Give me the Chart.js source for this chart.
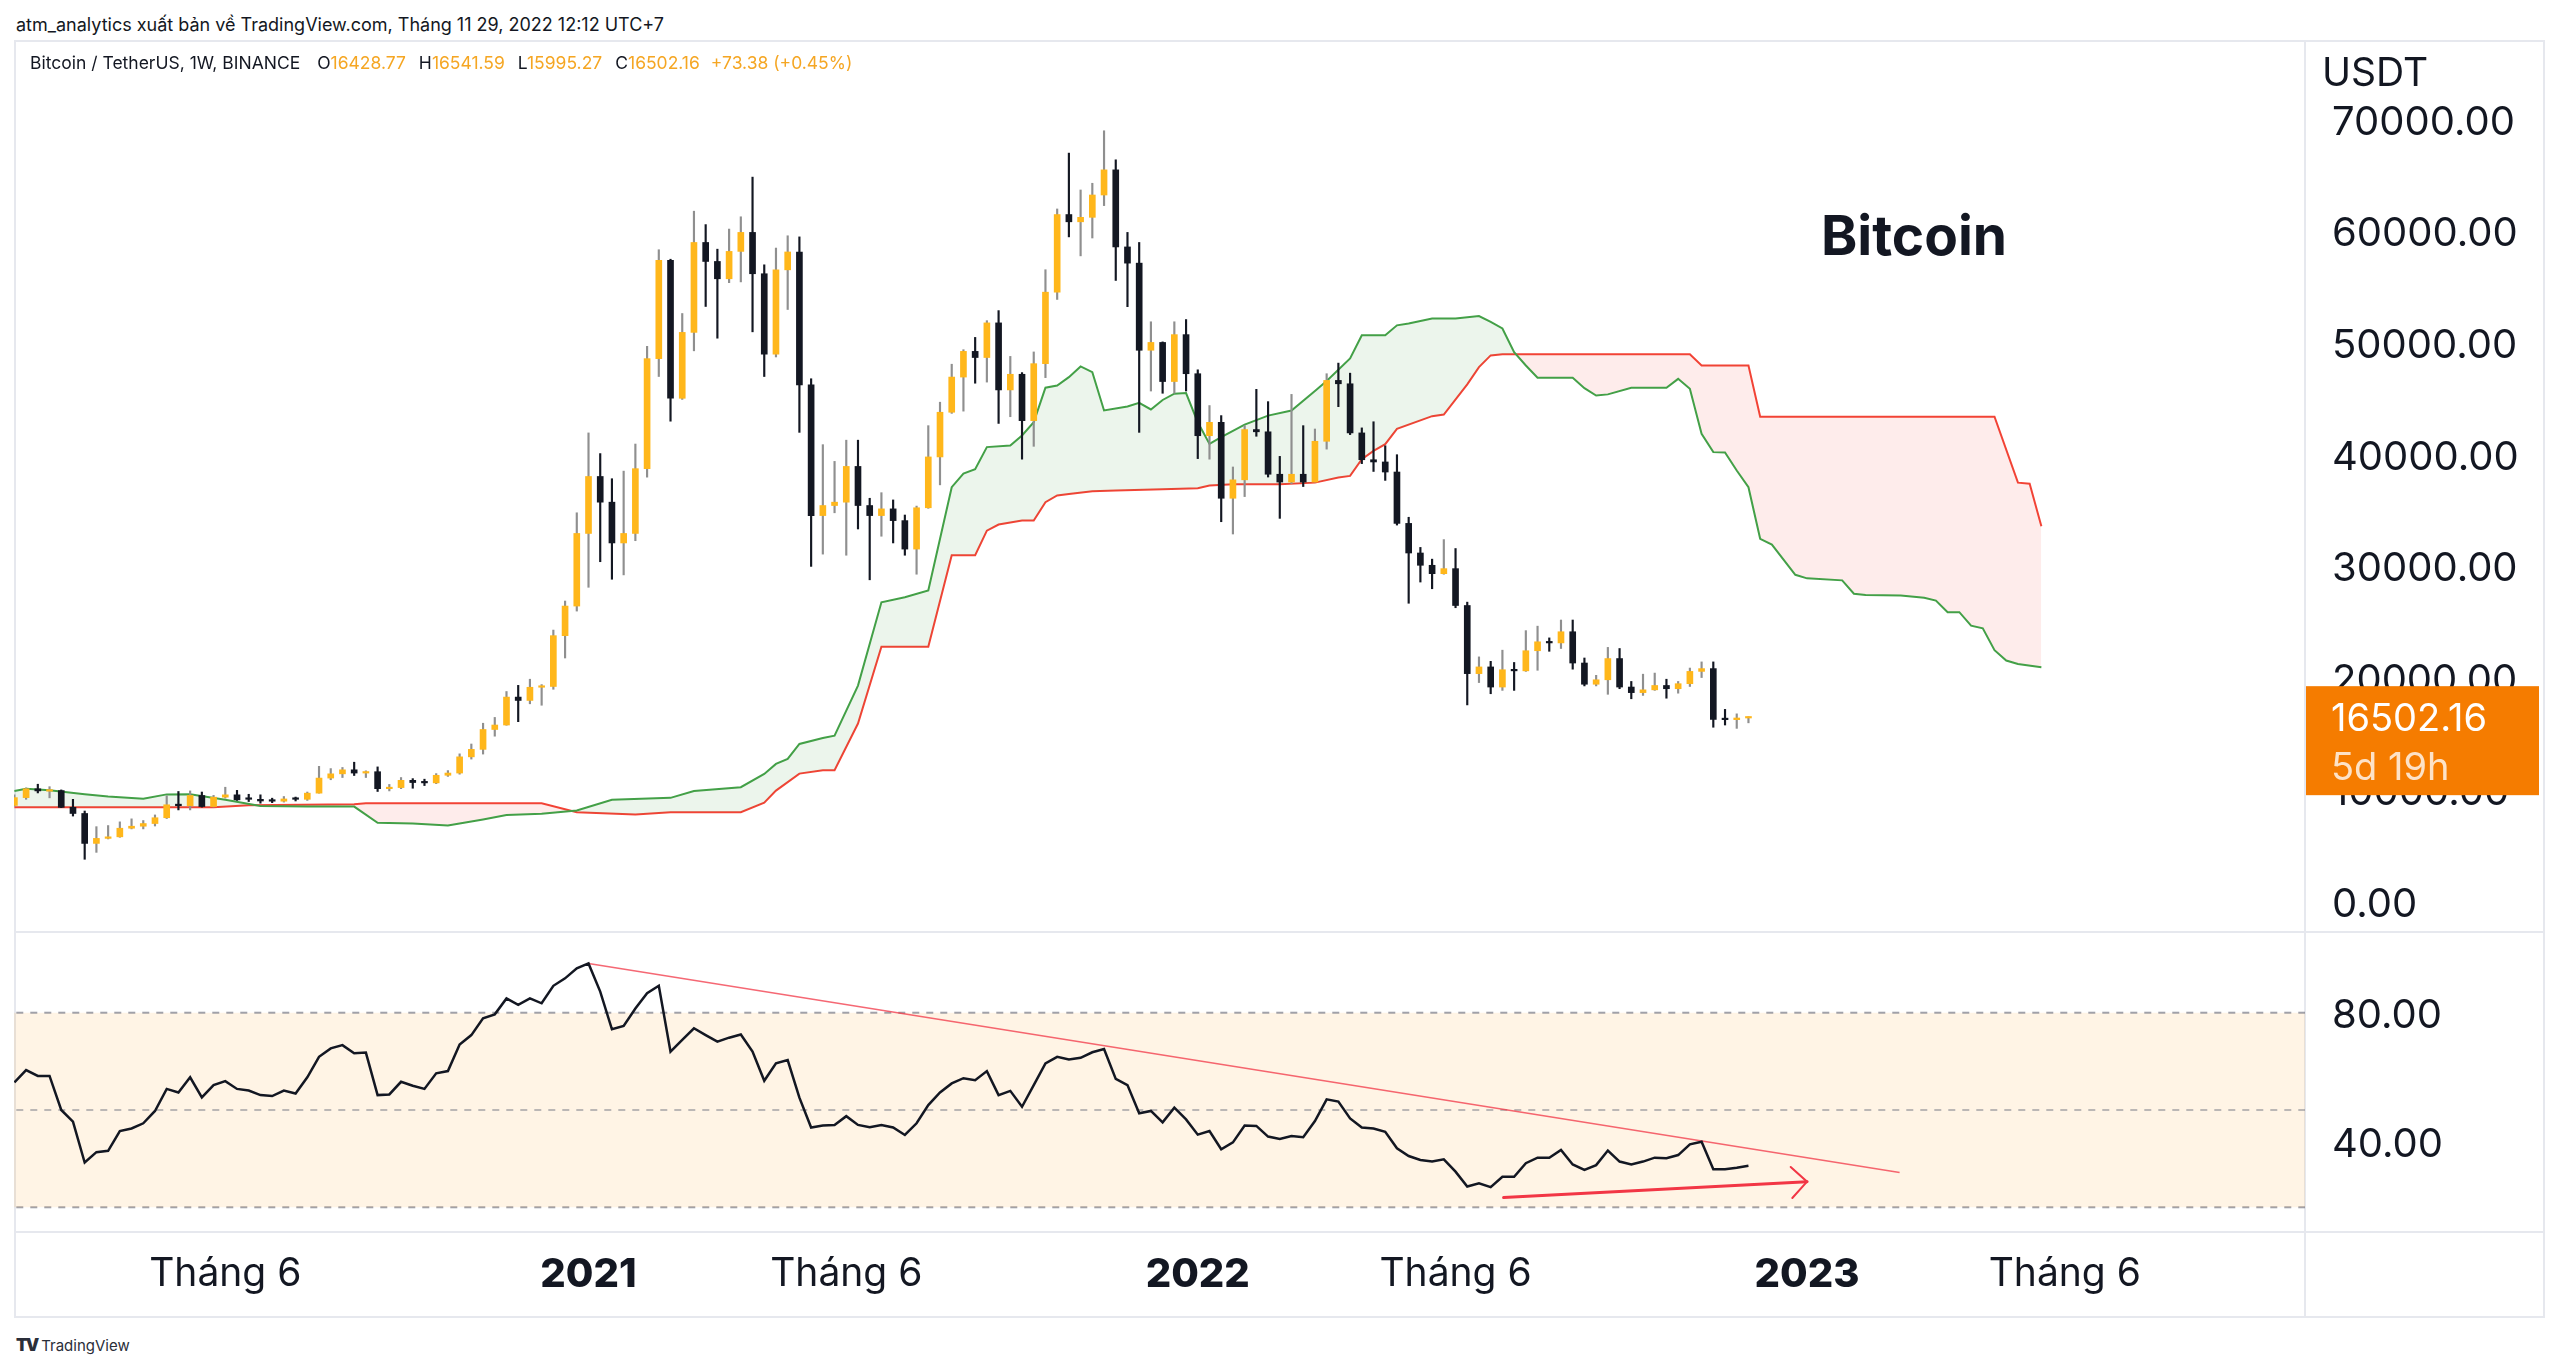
<!DOCTYPE html>
<html lang="vi">
<head>
<meta charset="utf-8">
<title>Bitcoin / TetherUS, 1W</title>
<script src="https://cdn.jsdelivr.net/npm/chart.js@4.4.1/dist/chart.umd.min.js"></script>
<style>
  html, body { margin: 0; padding: 0; background: #ffffff; }
  body { width: 2560px; height: 1370px; position: relative; overflow: hidden;
         font-family: Inter, "Noto Sans", sans-serif; color: #131722; }
  .abs { position: absolute; white-space: nowrap; }
  .hline { position: absolute; height: 2px; background: #e6e8ee; }
  .vline { position: absolute; width: 2px; background: #e6e8ee; }
  canvas { position: absolute; }
  #giaChart { left: 14px; top: 40px; width: 2531px; height: 892px; }
  #rsiChart { left: 14px; top: 932px; width: 2531px; height: 386px; }
  #frame { left: 14px; top: 40px; width: 2531px; height: 1278px; box-sizing: border-box; border: 2px solid #e6e8ee; }
  #tieuDe { left: 16px; top: 13px; font-size: 18px; line-height: 24px; }
  #chuGiai { left: 30px; top: 51px; font-size: 17.5px; line-height: 24px; }
  #chuGiai .v { color: #f5a623; margin-right: 11px; }
  #chuGiai .k { margin-left: 2px; }
  #donVi { left: 2322px; top: 49px; font-size: 39px; line-height: 46px; }
  #tenCoin { left: 1764px; top: 202px; width: 300px; text-align: center; font-size: 55px; line-height: 66px; font-weight: 700; }
  #chanTrang { left: 16px; top: 1334px; font-size: 15px; line-height: 22px; color: #2a2e39; }
  #chanTrang b { font-weight: 900; font-size: 17px; letter-spacing: -2px; margin-right: 4px; }
</style>
</head>
<body>
<div id="frame" class="abs"></div>
<div class="hline" style="left:14px; top:931px; width:2531px"></div>
<div class="hline" style="left:14px; top:1231px; width:2531px"></div>
<div class="vline" style="left:2304px; top:40px; height:1278px"></div>

<canvas id="giaChart" width="2531" height="892"></canvas>
<canvas id="rsiChart" width="2531" height="386"></canvas>

<div id="tieuDe" class="abs">atm_analytics xuất bản về TradingView.com, Tháng 11 29, 2022 12:12 UTC+7</div>
<div id="chuGiai" class="abs"></div>
<div id="donVi" class="abs">USDT</div>
<div id="tenCoin" class="abs">Bitcoin</div>
<div id="chanTrang" class="abs"><b>TV</b>TradingView</div>

<script>
// Tuần 0 = 03/02/2020; nến đầu tiên (27/01/2020) là tuần -1
const tuanDau = -1;

const opens = [
    8600, 9300, 10090, 9880, 9930, 8430, 7880, 5200, 5650, 5790,
    6560, 6740, 6980, 7500, 8700, 8580, 9490, 8500, 9340, 9550,
    9200, 9150, 9000, 8980, 9180, 9150, 9700, 11050, 11430, 11790,
    11500, 11620, 10100, 10200, 10850, 10650, 10620, 11300, 11500, 12950,
    13620, 15400, 15800, 18300, 18000, 19180, 19250, 23800, 26450, 32950,
    38050, 35750, 32100, 32950, 38750, 48600, 57400, 45050, 50950, 59000,
    57300, 55750, 58200, 59900, 56200, 49000, 56550, 58150, 46250, 34550,
    35450, 35750, 38950, 35450, 34550, 35150, 34100, 31550, 35250, 39800,
    43800, 46950, 49250, 48700, 51800, 45800, 47200, 43050, 48150, 54550,
    61500, 60850, 61250, 63250, 65500, 58600, 57150, 49350, 50050, 46550,
    50750, 47250, 41700, 42900, 36100, 37750, 42250, 42050, 38250, 37550,
    38250, 37550, 41200, 46650, 46350, 41950, 39550, 39350, 38450, 33850,
    31200, 30100, 29350, 29800, 26500, 20400, 21000, 19200, 20750, 20650,
    22450, 23250, 23150, 24150, 21350, 19450, 19850, 21750, 19200, 18700,
    18950, 19340, 19050, 19500, 20600, 20850, 16300, 16280, 16428.77
];
const highs = [
    9560, 10170, 10500, 10280, 9990, 9150, 8100, 6700, 6800, 7130,
    7400, 7250, 7750, 9460, 9850, 9900, 9800, 9500, 10230, 9950,
    9600, 9550, 9250, 9400, 9350, 9800, 12100, 11900, 12000, 12470,
    11700, 12050, 10480, 11100, 11000, 10950, 11450, 11720, 13220, 14100,
    15960, 16480, 18800, 19350, 19900, 19420, 24300, 26900, 34800, 41950,
    40100, 37850, 38530, 40955, 49700, 58350, 57500, 52640, 61800, 60600,
    58400, 60200, 61300, 64850, 57000, 58500, 59600, 59500, 46800, 40900,
    39400, 41300, 41300, 36100, 36600, 35950, 34600, 35400, 42600, 44700,
    48100, 49400, 50500, 52000, 52900, 48800, 47350, 49200, 56560, 62000,
    67000, 63700, 64300, 69000, 66400, 59900, 59000, 51900, 50100, 51900,
    52100, 47600, 44400, 43500, 38900, 42600, 45850, 44750, 39850, 45400,
    42600, 42300, 47250, 48200, 47300, 42400, 42950, 40800, 40000, 34400,
    31700, 30650, 32400, 31600, 26800, 21900, 21500, 22500, 21400, 24250,
    24650, 23600, 25200, 25200, 21800, 20250, 22750, 22650, 19700, 20350,
    20450, 19900, 19700, 20900, 21450, 21450, 17200, 16800, 16541.59
];
const lows = [
    8530, 9150, 9720, 9280, 8400, 7650, 3780, 4400, 5600, 5750,
    6500, 6500, 6760, 7430, 8200, 8200, 8450, 8450, 9250, 9050,
    8950, 8800, 8850, 8900, 9000, 9050, 9700, 10900, 11100, 11280,
    11100, 9850, 9900, 10100, 10140, 10380, 10550, 11200, 11400, 12750,
    13200, 14800, 15780, 16100, 17700, 17570, 19000, 21800, 26000, 28130,
    30420, 28850, 29240, 32300, 37990, 47000, 43000, 44950, 49300, 53270,
    50430, 55400, 55470, 51000, 47000, 48750, 53000, 42000, 30000, 31100,
    34800, 31000, 33350, 28800, 32700, 32100, 31000, 29300, 35200, 37300,
    43700, 43900, 46400, 46500, 42800, 43400, 39600, 40750, 46900, 53900,
    59500, 57800, 59400, 62300, 55600, 53250, 42000, 45700, 45500, 45500,
    45700, 39650, 39600, 34000, 32900, 36250, 41650, 38000, 34300, 37400,
    37150, 37550, 40500, 44300, 41800, 39200, 38500, 37700, 33700, 26700,
    28600, 28000, 29300, 26300, 17600, 19600, 18600, 18900, 18900, 20600,
    20700, 22400, 22650, 20800, 19300, 19300, 18550, 19050, 18150, 18450,
    18900, 18200, 18650, 19250, 20050, 15600, 15800, 15500, 15995.27
];
const closes = [
    9300, 10090, 9900, 9930, 8430, 7880, 5200, 5650, 5790, 6560,
    6740, 6980, 7500, 8660, 8580, 9490, 8500, 9340, 9550, 9100,
    9150, 9000, 8980, 9180, 9150, 9700, 11050, 11430, 11790, 11500,
    11620, 10100, 10200, 10850, 10650, 10620, 11300, 11500, 12950, 13620,
    15400, 15800, 18300, 18000, 19180, 19250, 23800, 26450, 32950, 38050,
    35750, 32100, 32950, 38750, 48600, 57400, 45050, 50950, 59000, 57300,
    55750, 58200, 59900, 56200, 49000, 56550, 58150, 46250, 34550, 35450,
    35750, 38950, 35450, 34550, 35150, 34100, 31550, 35250, 39800, 43800,
    46950, 49250, 48700, 51800, 45800, 47200, 43050, 48150, 54550, 61500,
    60850, 61250, 63250, 65500, 58600, 57150, 49350, 50050, 46550, 50750,
    47250, 41700, 42900, 36100, 37750, 42250, 42050, 38250, 37550, 38250,
    37550, 41200, 46650, 46350, 41950, 39550, 39350, 38450, 33850, 31200,
    30100, 29350, 29800, 26500, 20400, 21000, 19200, 20750, 20650, 22450,
    23250, 23150, 24150, 21350, 19450, 19850, 21750, 19200, 18700, 18950,
    19340, 19050, 19500, 20600, 20850, 16300, 16280, 16428.78, 16502.16
];
const rsiValues = [
    58.5, 62.3, 60.5, 60.5, 50.0, 46.4, 33.8, 37.0, 37.4, 43.5,
    44.3, 45.9, 49.7, 56.5, 55.4, 60.1, 53.9, 57.7, 58.9, 56.5,
    56.0, 54.6, 54.3, 56.0, 55.1, 60.1, 66.4, 69.0, 70.0, 67.5,
    67.7, 54.6, 54.8, 58.7, 57.5, 56.5, 61.3, 62.0, 70.2, 73.1,
    78.3, 79.5, 84.4, 82.4, 84.4, 82.9, 88.3, 90.6, 93.7, 95.2,
    86.5, 74.9, 75.9, 81.3, 86.0, 88.3, 68.0, 71.6, 75.2, 73.1,
    71.1, 72.3, 73.3, 68.0, 59.0, 64.4, 65.4, 53.8, 44.6, 45.2,
    45.4, 48.1, 45.4, 44.7, 45.4, 44.6, 42.3, 45.9, 51.5, 55.4,
    58.2, 59.8, 59.2, 62.0, 54.6, 55.9, 51.0, 57.7, 64.4, 66.4,
    65.6, 66.1, 67.8, 68.8, 59.6, 57.7, 49.0, 49.7, 46.2, 50.7,
    47.1, 42.4, 43.5, 37.9, 40.0, 45.2, 45.1, 41.8, 41.1, 42.0,
    41.6, 46.6, 53.3, 52.6, 47.4, 44.6, 44.3, 43.3, 38.2, 35.8,
    34.6, 34.1, 34.8, 31.0, 26.4, 27.4, 26.2, 29.4, 29.4, 33.6,
    35.3, 35.3, 37.7, 33.2, 31.5, 33.0, 37.5, 34.1, 33.2, 34.1,
    35.3, 35.1, 36.1, 39.4, 40.2, 31.7, 31.7, 32.2, 32.8
];

// Mây Ichimoku (đã dời 26 tuần), đọc theo các đỉnh gãy của đường
const spanAWeeks = [-1, 0, 2, 5, 7, 10, 12, 14, 17, 20, 24, 28, 30, 33, 36, 39, 41, 44, 47, 50,
    55, 57, 61, 63, 64, 65, 66, 68, 69, 71, 73, 75, 77, 79, 80, 81, 82, 84, 85, 86,
    87, 88, 89, 90, 91, 92, 94, 95, 96, 97, 98, 99, 100, 101, 102, 104, 106, 108, 110, 111,
    113, 114, 116, 117, 118, 120, 122, 124, 125, 126, 127, 128, 129, 132, 133, 134, 135, 137, 140, 141,
    142, 143, 144, 145, 146, 147, 148, 149, 151, 152, 155, 156, 157, 160, 162, 163, 164, 165, 166, 167,
    168, 169, 170, 172];
const spanA = [9900, 10100, 9950, 9600, 9400, 9190, 9590, 9600, 9100, 8550, 8500, 8500, 7050, 6980, 6800, 7350, 7750, 7850, 8150, 9100,
    9280, 9900, 10230, 11420, 12320, 12760, 14100, 14640, 14850, 19330, 26790, 27240, 27840, 37090, 38300, 38700, 40680, 40820, 41720, 42910,
    46000, 46200, 46940, 47900, 47390, 43960, 44320, 44650, 44050, 44900, 45460, 45520, 42900, 40970, 41570, 42700, 43500, 43950, 45700, 46600,
    48620, 50700, 50700, 51580, 51750, 52200, 52200, 52410, 51900, 51300, 49180, 47990, 46890, 46890, 45960, 45300, 45400, 45990, 45990, 46790,
    45900, 41870, 40230, 40200, 38590, 37090, 32470, 31950, 29250, 28930, 28750, 27550, 27450, 27400, 27200, 26940, 25900, 25900, 24700, 24450,
    22500, 21570, 21270, 20980];
const spanBWeeks = [-1, 16, 19, 28, 29, 44, 47, 52, 55, 61, 63, 64, 66, 68, 69, 71, 73, 77, 79, 81,
    82, 83, 85, 86, 87, 88, 89, 91, 93, 97, 100, 101, 103, 107, 110, 112, 113, 114, 115, 116,
    117, 120, 121, 123, 124, 125, 126, 142, 143, 147, 148, 168, 170, 171, 172];
const spanB = [8445, 8445, 8620, 8700, 8800, 8800, 7990, 7800, 7990, 7995, 8850, 9930, 11450, 11750, 11750, 15930, 22800, 22800, 31000, 31000,
    33200, 33750, 34100, 34100, 35750, 36350, 36490, 36730, 36790, 36900, 37000, 37250, 37350, 37350, 37500, 37950, 38100, 39590, 40340, 40940,
    42310, 43450, 43600, 46300, 47840, 48890, 49000, 49000, 47990, 47990, 43400, 43400, 37500, 37400, 33600];

const mocGia = [0, 10000, 20000, 30000, 40000, 50000, 60000, 70000];
const mocRsi = [40, 80];
const mucRsi = [80, 50, 20];
const mocThoiGian = [17, 48, 70, 100, 122, 152, 174];
const nhanThoiGian = ['Tháng 6', '2021', 'Tháng 6', '2022', 'Tháng 6', '2023', 'Tháng 6'];

// Hai đường vẽ tay trên RSI
const trendWeeks = [48, 159.9];
const trendValues = [95.2, 30.7];
const arrowWeeks = [126.1, 152.0];
const arrowValues = [23.0, 27.9];

// Khung trục
const xMin = -1.033, xMax = 194.5;
const giaMin = -2730, giaMax = 77126;
const rsiMin = 12.38, rsiMax = 104.89;

const mauTang = '#ffb71b';
const mauGiam = '#131722';
const fontChu = 'Inter, "Noto Sans", sans-serif';

Chart.defaults.font.family = fontChu;
Chart.defaults.color = '#131722';

const tuan = closes.map((_, k) => tuanDau + k);
const laTang = closes.map((c, k) => c >= opens[k]);
const n = closes.length - 1;

document.addEventListener("DOMContentLoaded", function () {
    veChuGiai();
    taoBieuDoGia();
    taoBieuDoRsi();
});

function veChuGiai() {
    const thayDoi = closes[n] - closes[n - 1];
    const phanTram = thayDoi / closes[n - 1] * 100;
    const dau = thayDoi >= 0 ? '+' : '';
    document.getElementById("chuGiai").innerHTML =
        'Bitcoin / TetherUS, 1W, BINANCE <span style="margin-left:10px"></span>' +
        `<span class="k">O</span><span class="v">${opens[n].toFixed(2)}</span>` +
        `<span class="k">H</span><span class="v">${highs[n].toFixed(2)}</span>` +
        `<span class="k">L</span><span class="v">${lows[n].toFixed(2)}</span>` +
        `<span class="k">C</span><span class="v">${closes[n].toFixed(2)}</span>` +
        `<span class="v">${dau}${thayDoi.toFixed(2)} (${dau}${phanTram.toFixed(2)}%)</span>`;
}

function trucPhai(min, max, moc) {
    return {
        type: 'linear',
        position: 'right',
        min: min,
        max: max,
        grid: { display: false, drawTicks: false },
        border: { display: false },
        afterBuildTicks: s => { s.ticks = moc.map(v => ({ value: v })); },
        afterFit: s => { s.width = 240; s.paddingTop = 0; s.paddingBottom = 0; },
        ticks: { padding: 27, labelOffset: 3, font: { size: 40 }, color: '#131722', callback: v => Number(v).toFixed(2) }
    };
}

// Nhãn giá cuối cùng màu cam
const nhanGiaCuoi = {
    id: 'nhanGiaCuoi',
    afterDraw(chart) {
        const y = chart.scales.y;
        const py = y.getPixelForValue(closes[n]);
        const ctx = chart.ctx;
        ctx.save();
        ctx.fillStyle = '#f57c00';
        ctx.fillRect(y.left + 1, py - 31, 233, 109);
        ctx.font = '38px ' + fontChu;
        ctx.textBaseline = 'middle';
        ctx.fillStyle = '#ffffff';
        ctx.fillText(closes[n].toFixed(2), y.left + 26, py + 2);
        ctx.fillStyle = 'rgba(255,255,255,0.78)';
        ctx.fillText('5d 19h', y.left + 26, py + 51);
        ctx.restore();
    }
};

function taoBieuDoGia() {
    new Chart(document.getElementById("giaChart"), {
        type: 'bar',
        data: {
            datasets: [
                {
                    label: 'Thân nến',
                    data: tuan.map((x, k) => ({ x: x, y: [opens[k], closes[k]] })),
                    backgroundColor: laTang.map(t => t ? mauTang : mauGiam),
                    barThickness: 6,
                    minBarLength: 1.5,
                    grouped: false,
                    borderWidth: 0
                },
                {
                    label: 'Bóng nến',
                    data: tuan.map((x, k) => ({ x: x, y: [lows[k], highs[k]] })),
                    backgroundColor: laTang.map(t => t ? '#8f8f8f' : mauGiam),
                    barThickness: 1.5,
                    grouped: false,
                    borderWidth: 0
                },
                {
                    type: 'line',
                    label: 'Senkou Span A',
                    data: spanAWeeks.map((x, k) => ({ x: x, y: spanA[k] })),
                    borderColor: '#43a047',
                    borderWidth: 2,
                    pointRadius: 0,
                    tension: 0,
                    fill: { target: '+1', above: 'rgba(67,160,71,0.1)', below: 'rgba(244,67,54,0.1)' }
                },
                {
                    type: 'line',
                    label: 'Senkou Span B',
                    data: spanBWeeks.map((x, k) => ({ x: x, y: spanB[k] })),
                    borderColor: '#f44336',
                    borderWidth: 2,
                    pointRadius: 0,
                    tension: 0,
                    fill: false
                }
            ]
        },
        options: {
            responsive: false,
            animation: false,
            devicePixelRatio: 1,
            layout: { padding: 0 },
            plugins: { legend: { display: false }, tooltip: { enabled: false } },
            scales: {
                x: { type: 'linear', min: xMin, max: xMax, offset: false, display: false },
                y: trucPhai(giaMin, giaMax, mocGia)
            }
        },
        plugins: [nhanGiaCuoi]
    });
}

// Đầu mũi tên cho đường xu hướng RSI
const dauMuiTen = {
    id: 'dauMuiTen',
    afterDatasetsDraw(chart) {
        const { x, y } = chart.scales;
        const x0 = x.getPixelForValue(arrowWeeks[0]), y0 = y.getPixelForValue(arrowValues[0]);
        const x1 = x.getPixelForValue(arrowWeeks[1]), y1 = y.getPixelForValue(arrowValues[1]);
        const goc = Math.atan2(y1 - y0, x1 - x0);
        const ctx = chart.ctx;
        ctx.save();
        ctx.strokeStyle = '#f23645';
        ctx.lineWidth = 2;
        ctx.lineCap = 'round';
        ctx.beginPath();
        ctx.moveTo(x1 + 22 * Math.cos(goc + Math.PI * 0.75), y1 + 22 * Math.sin(goc + Math.PI * 0.75));
        ctx.lineTo(x1, y1);
        ctx.lineTo(x1 + 22 * Math.cos(goc - Math.PI * 0.75), y1 + 22 * Math.sin(goc - Math.PI * 0.75));
        ctx.stroke();
        ctx.restore();
    }
};

function duongMuc(muc, mau, fill) {
    return {
        label: 'Mức ' + muc,
        data: [{ x: xMin - 1, y: muc }, { x: xMax + 1, y: muc }],
        borderColor: mau,
        borderWidth: 2,
        borderDash: [7, 7],
        pointRadius: 0,
        fill: fill,
        backgroundColor: 'rgba(255,152,0,0.1)'
    };
}

function taoBieuDoRsi() {
    new Chart(document.getElementById("rsiChart"), {
        type: 'line',
        data: {
            datasets: [
                {
                    label: 'RSI',
                    data: tuan.map((x, k) => ({ x: x, y: rsiValues[k] })),
                    borderColor: '#131722',
                    borderWidth: 2.5,
                    pointRadius: 0,
                    tension: 0
                },
                {
                    label: 'Xu hướng',
                    data: trendWeeks.map((x, k) => ({ x: x, y: trendValues[k] })),
                    borderColor: 'rgba(242,54,69,0.75)',
                    borderWidth: 1.5,
                    pointRadius: 0
                },
                {
                    label: 'Mũi tên',
                    data: arrowWeeks.map((x, k) => ({ x: x, y: arrowValues[k] })),
                    borderColor: '#f23645',
                    borderWidth: 3,
                    borderCapStyle: 'round',
                    pointRadius: 0
                },
                duongMuc(mucRsi[1], 'rgba(120,123,134,0.5)', false),
                duongMuc(mucRsi[0], 'rgba(120,123,134,0.7)', '+1'),
                duongMuc(mucRsi[2], 'rgba(120,123,134,0.7)', false)
            ]
        },
        options: {
            responsive: false,
            animation: false,
            devicePixelRatio: 1,
            layout: { padding: 0 },
            plugins: { legend: { display: false }, tooltip: { enabled: false } },
            scales: {
                x: {
                    type: 'linear',
                    position: 'bottom',
                    min: xMin,
                    max: xMax,
                    offset: false,
                    grid: { display: false, drawTicks: false },
                    border: { display: false },
                    afterBuildTicks: s => { s.ticks = mocThoiGian.map(v => ({ value: v })); },
                    afterFit: s => { s.height = 86; s.paddingLeft = 0; s.paddingRight = 0; },
                    ticks: {
                        autoSkip: false,
                        maxRotation: 0,
                        padding: 19,
                        color: '#131722',
                        callback: (v, i) => nhanThoiGian[i],
                        font: ctx => {
                            const laNam = /^\d{4}$/.test(nhanThoiGian[ctx.index]);
                            return { size: laNam ? 40 : 39, weight: laNam ? 800 : 'normal' };
                        }
                    }
                },
                y: trucPhai(rsiMin, rsiMax, mocRsi)
            }
        },
        plugins: [dauMuiTen]
    });
}
</script>
</body>
</html>
